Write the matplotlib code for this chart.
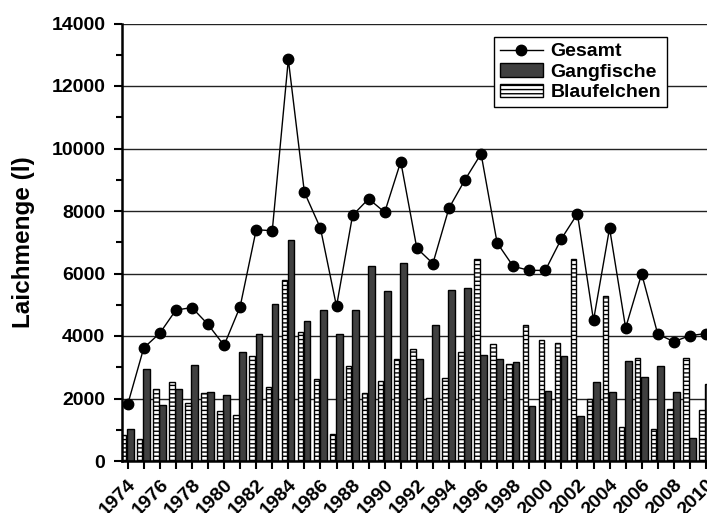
import numpy as np
import matplotlib.pyplot as plt
from matplotlib.ticker import MultipleLocator

plt.rcParams['font.family'] = ['Liberation Sans', 'DejaVu Sans']
plt.rcParams['font.weight'] = 'bold'
plt.rcParams['hatch.linewidth'] = 1.0

years = list(range(1974, 2011))

# Gesamt (total spawn amount, litres)
gesamt = [1810, 3620, 4090, 4830, 4910, 4370, 3700, 4940, 7400, 7370,
          12850, 8600, 7450, 4950, 7860, 8390, 7960, 9580, 6810, 6320,
          8090, 9000, 9830, 6980, 6230, 6100, 6100, 7110, 7910, 4500,
          7450, 4260, 5990, 4060, 3820, 4010, 4080]

gangfische = [1010, 2930, 1800, 2310, 3060, 2200, 2120, 3490, 4070, 5030,
              7070, 4490, 4840, 4080, 4840, 6230, 5430, 6350, 3250, 4340,
              5470, 5540, 3390, 3250, 3160, 1760, 2240, 3350, 1440, 2520,
              2200, 3190, 2700, 3030, 2200, 730, 2480]

blaufelchen = [820, 720, 2310, 2540, 1870, 2180, 1600, 1460, 3350, 2360,
               5790, 4120, 2630, 880, 3030, 2180, 2550, 3250, 3600, 2010,
               2650, 3490, 6470, 3750, 3110, 4360, 3880, 3780, 6480, 1990,
               5270, 1100, 3300, 1010, 1650, 3290, 1630]

x = np.array(years)

fig = plt.figure(figsize=(7.07, 5.13), dpi=100)
ax = fig.add_axes([122 / 707, 52 / 513, 600 / 707, 437.5 / 513])

ax.plot(x, gesamt, '-o', color='black', linewidth=1.0, markersize=7.5,
        label='Gesamt', zorder=3)
ax.bar(x - 0.04, gangfische, width=0.42, align='edge', color='#404040',
       edgecolor='black', linewidth=1.0, label='Gangfische', zorder=2)
ax.bar(x - 0.42, blaufelchen, width=0.34, align='edge', color='white',
       edgecolor='black', linewidth=1.0, hatch='----', label='Blaufelchen', zorder=2)

ax.set_xlim(1973.645, 2011)
ax.set_ylim(0, 14000)

ax.yaxis.set_major_locator(MultipleLocator(2000))
ax.yaxis.set_minor_locator(MultipleLocator(1000))
ax.grid(axis='y', which='major', color='#222222', linewidth=1.0)
ax.set_axisbelow(True)

ax.set_xticks(years)
ax.set_xticklabels([str(y) if y % 2 == 0 else '' for y in years],
                   rotation=45, ha='right', va='top', rotation_mode='anchor')

ax.tick_params(axis='both', which='major', length=6, width=1.5,
               labelsize=14, direction='out')
ax.tick_params(axis='y', which='minor', length=4, width=1.5, direction='out')
ax.tick_params(axis='y', pad=6)
ax.tick_params(axis='x', pad=5)
for lab in ax.get_xticklabels() + ax.get_yticklabels():
    lab.set_fontweight('bold')

ax.spines['top'].set_visible(False)
ax.spines['right'].set_visible(False)
ax.spines['left'].set_linewidth(1.8)
ax.spines['bottom'].set_linewidth(1.8)

ax.set_ylabel('Laichmenge (l)', fontsize=17.5, fontweight='bold', labelpad=12)

leg = ax.legend(loc='upper left', bbox_to_anchor=((494 - 122) / 600, (461 - 37) / 437.5),
                fontsize=14, frameon=True, fancybox=False, edgecolor='black',
                framealpha=1, borderpad=0.3, labelspacing=0.15,
                handlelength=2.2, handletextpad=0.4, borderaxespad=0)
leg.get_frame().set_linewidth(1.0)

fig.savefig('out.png', dpi=100)
